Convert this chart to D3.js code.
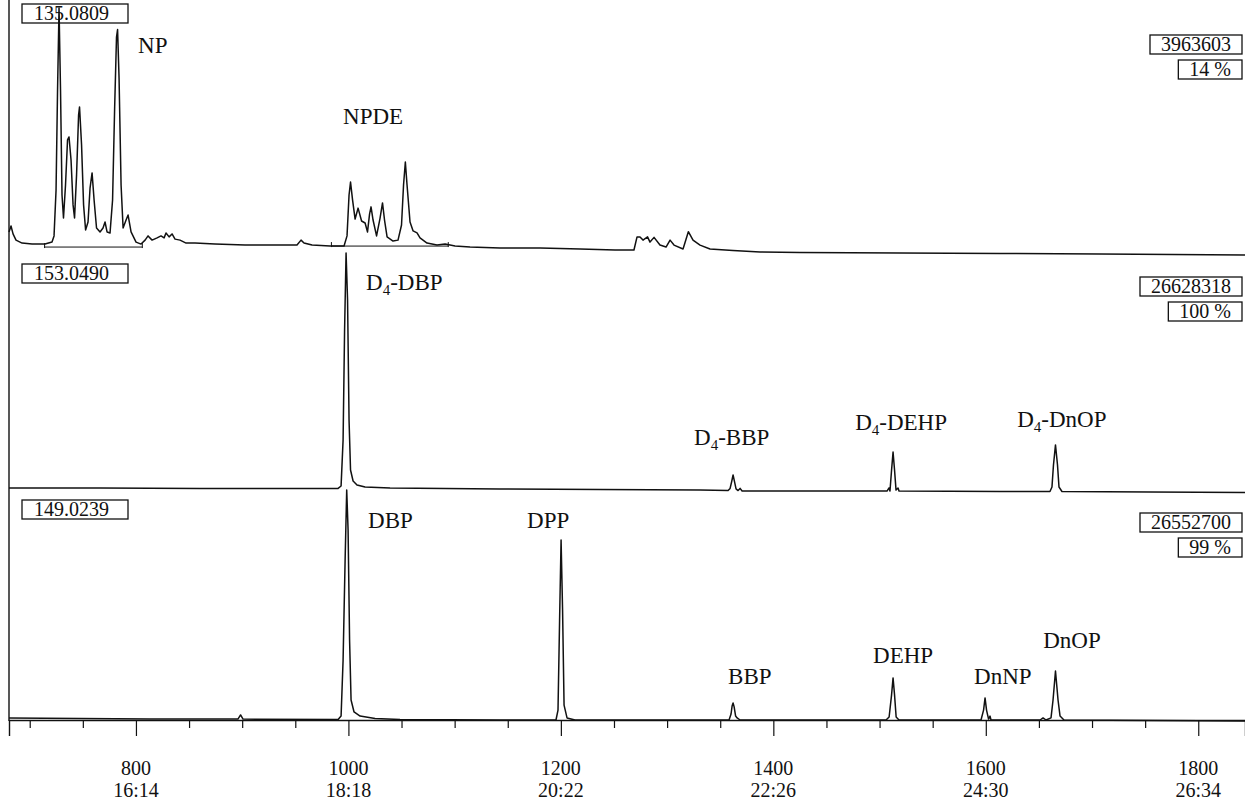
<!DOCTYPE html>
<html>
<head>
<meta charset="utf-8">
<script src="https://cdn.jsdelivr.net/npm/d3@7"></script>
<style>
  body { margin: 0; background: #fff; }
  svg { display: block; }
  text { font-family: "Liberation Serif", "Times New Roman", serif; fill: #111; }
</style>
</head>
<body>
<svg id="chart" width="1245" height="802"></svg>
<script>
// ---- Axis: scan number with retention time underneath ----
const majorScans = [800, 1000, 1200, 1400, 1600, 1800];
const majorTimes = ["16:14", "18:18", "20:22", "22:26", "24:30", "26:34"];
const minorScans = [700, 750, 850, 900, 950, 1050, 1100, 1150, 1250, 1300, 1350,
                    1450, 1500, 1550, 1650, 1700, 1750];

// ---- Panel headers: ion mass, full-scale count, relative scale ----
const ionMasses = ["135.0809", "153.0490", "149.0239"];
const fullScaleCounts = ["3963603", "26628318", "26552700"];
const scalePercents = ["14 %", "100 %", "99 %"];

// ---- Trace m/z 135.0809 (relative intensity, %) ----
const scans135 = [680.5, 682.4, 684.3, 687.1, 692.8, 702.2, 714.4, 721.0, 722.9, 724.8,
  726.2, 727.6, 729.0, 730.4, 731.8, 733.7, 735.6, 737.0, 738.9, 740.8,
  742.2, 744.1, 746.0, 746.9, 748.8, 750.7, 752.6, 754.9, 756.8, 758.7,
  760.6, 762.9, 766.2, 769.0, 770.9, 772.8, 775.6, 778.0, 779.9, 781.7,
  782.7, 784.1, 786.0, 787.9, 790.7, 792.6, 795.4, 800.1, 804.8, 808.6,
  811.4, 815.2, 819.9, 823.6, 826.5, 828.3, 831.2, 834.0, 836.8, 841.5,
  847.2, 855.6, 874.4, 902.7, 926.2, 951.6, 955.4, 958.2, 965.8, 982.7,
  995.9, 998.7, 1000.6, 1002.0, 1003.9, 1006.3, 1009.1, 1012.4, 1015.7, 1018.0,
  1019.9, 1021.3, 1023.2, 1026.5, 1029.8, 1032.1, 1034.0, 1036.4, 1042.0, 1046.7,
  1050.0, 1051.9, 1053.6, 1055.2, 1058.0, 1060.9, 1064.6, 1067.4, 1074.0, 1083.4,
  1091.0, 1100.4, 1114.5, 1142.7, 1180.4, 1218.1, 1251.0, 1268.8, 1271.7, 1274.5,
  1277.3, 1281.6, 1283.9, 1287.7, 1293.3, 1299.0, 1302.8, 1306.5, 1315.0, 1320.0,
  1324.4, 1331.0, 1340.4, 1362.0, 1387.5, 1425.1, 1519.2, 1613.4, 1707.5, 1844];
const intensity135 = [8.9, 11.3, 8.1, 5.6, 4.4, 4.0, 4.0, 4.8, 7.3, 25.8,
  66.1, 99.2, 66.1, 23.8, 14.5, 27.8, 46.0, 47.2, 37.9, 19.8,
  14.5, 31.9, 56.0, 59.3, 44.0, 19.8, 9.7, 12.9, 26.6, 32.7,
  21.8, 10.5, 8.9, 10.5, 12.9, 8.9, 8.5, 21.8, 58.1, 87.5,
  90.5, 71.0, 27.8, 10.5, 13.7, 15.7, 8.9, 4.8, 4.0, 5.6,
  7.3, 5.6, 6.5, 7.3, 6.5, 8.5, 6.9, 8.1, 6.0, 5.6,
  4.4, 4.4, 4.0, 3.6, 3.6, 3.6, 5.6, 4.4, 3.6, 3.2,
  3.2, 7.3, 23.8, 29.0, 21.8, 14.1, 18.5, 13.3, 12.5, 8.9,
  16.1, 19.0, 13.7, 7.3, 14.5, 20.6, 13.7, 6.9, 5.2, 5.6,
  11.7, 27.8, 37.1, 27.8, 12.9, 9.3, 8.5, 6.5, 4.4, 3.6,
  4.0, 3.2, 2.8, 2.4, 2.4, 2.0, 1.6, 1.6, 6.9, 6.9,
  5.6, 6.9, 4.8, 6.7, 3.6, 2.8, 5.6, 3.6, 2.0, 9.0,
  5.6, 3.6, 2.0, 1.4, 0.8, 0.6, 0.4, 0.2, 0.0, -0.4];
// integration baselines under the NP and NPDE clusters: [start scan, end scan, level]
const baselines135 = [[714, 806, 2.8], [984, 1094, 3.2]];

// ---- Trace m/z 153.0490 ----
const scans153 = [680.5, 766.2, 860.3, 954.5, 990.3, 993.1, 995.0, 996.4, 997.8, 999.2,
  1000.6, 1002.0, 1004.4, 1008.1, 1015.7, 1039.2, 1142.7, 1236.9, 1331.0, 1357.4,
  1359.3, 1360.7, 1362.1, 1363.5, 1364.9, 1366.8, 1368.7, 1370.6, 1425.1, 1507.0,
  1508.9, 1509.8, 1511.3, 1512.7, 1514.1, 1515.5, 1517.4, 1518.3, 1613.4, 1660.4,
  1662.3, 1663.7, 1665.6, 1667.5, 1668.9, 1671.7, 1754.6, 1844];
const intensity153 = [1.7, 1.7, 1.5, 1.5, 1.5, 2.5, 21.8, 67.8, 100, 80.3,
  30.1, 9.2, 4.6, 2.9, 2.1, 1.7, 1.3, 1.0, 0.8, 0.6,
  1.5, 4.2, 7.1, 4.2, 1.3, 0.6, 1.5, 0.4, 0.4, 0.4,
  1.7, 0.4, 9.2, 16.7, 9.2, 0.8, 1.7, 0.4, 0.2, 0.2,
  2.1, 11.3, 19.7, 11.3, 2.1, 0.2, 0.0, -0.2];

// ---- Trace m/z 149.0239 ----
const scans149 = [680.5, 813.2, 896.0, 898.5, 900.8, 990.3, 993.1, 995.0, 996.9, 998.4,
  999.7, 1001.1, 1002.5, 1005.3, 1011.0, 1025.1, 1048.6, 1142.7, 1195.4, 1197.3,
  1198.8, 1200.2, 1201.6, 1203.0, 1205.8, 1213.3, 1358.3, 1360.2, 1361.2, 1362.1,
  1363.1, 1364.5, 1365.9, 1368.7, 1506.1, 1509.0, 1511.3, 1512.7, 1514.1, 1515.6,
  1518.3, 1595.5, 1597.9, 1599.3, 1600.7, 1602.6, 1604.0, 1604.9, 1651.1, 1653.9,
  1656.7, 1661.4, 1663.3, 1665.6, 1668.0, 1669.9, 1673.6, 1844];
const intensity149 = [0.9, 0.4, 0.4, 2.2, 0.4, 0.2, 1.7, 26.1, 69.6, 100,
  82.6, 34.8, 8.7, 3.5, 1.7, 0.7, 0.2, 0.0, 0.0, 4.3,
  43.5, 78.3, 47.8, 6.5, 0.9, 0.0, 0.0, 2.6, 6.1, 7.4,
  5.7, 1.7, 0.9, 0.0, 0.0, 1.3, 10.9, 18.3, 10.9, 1.3,
  0.0, 0.0, 4.3, 9.6, 4.3, 0.4, 1.7, 0.0, 0.0, 0.9,
  0.0, 0.9, 8.7, 21.3, 8.7, 1.7, 0.0, -0.4];

// ---- Compound labels: name, anchor scan, anchor level (%) ----
const labels135 = [["NP", 802, 81.0], ["NPDE", 995, 52.4]];
const labels153 = [["D4-DBP", 1016.6, 84.5], ["D4-BBP", 1325.4, 19.7],
                   ["D4-DEHP", 1477.0, 25.9], ["D4-DnOP", 1629.5, 27.2]];
const labels149 = [["DBP", 1018.5, 83.5], ["DPP", 1168.2, 83.5], ["BBP", 1357.4, 15.7],
                   ["DEHP", 1493.9, 24.8], ["DnNP", 1589.0, 15.7], ["DnOP", 1654.0, 31.3]];

// ---------------------------------------------------------------
const W = 1245, H = 802;
const svg = d3.select("#chart");
const x = d3.scaleLinear().domain([680.5, 1844]).range([9, W]);

// panel frames: top of scale, zero line, header rows (left box, right boxes)
const frames = [
  { top: 6,   zero: 254, leftBox: 4,   rightBox: 35 },
  { top: 253, zero: 492, leftBox: 264, rightBox: 277 },
  { top: 490, zero: 720, leftBox: 500, rightBox: 513 }
];
const traces = [
  { scans: scans135, vals: intensity135, labels: labels135 },
  { scans: scans153, vals: intensity153, labels: labels153 },
  { scans: scans149, vals: intensity149, labels: labels149 }
];

const ink = "#111";

traces.forEach((tr, i) => {
  const f = frames[i];
  const y = d3.scaleLinear().domain([0, 100]).range([f.zero, f.top]);
  const pts = tr.scans.map((s, k) => [s, tr.vals[k]]);
  const line = d3.line().x(d => x(d[0])).y(d => y(d[1]));

  svg.append("path")
    .attr("d", line(pts))
    .attr("fill", "none")
    .attr("stroke", ink)
    .attr("stroke-width", 1.5)
    .attr("stroke-linejoin", "round");

  if (i === 0) {
    baselines135.forEach(b => {
      const g = svg.append("g").attr("stroke", ink).attr("stroke-width", 1);
      g.append("line").attr("x1", x(b[0])).attr("x2", x(b[1]))
        .attr("y1", y(b[2])).attr("y2", y(b[2]));
      [b[0], b[1]].forEach(s => g.append("line")
        .attr("x1", x(s)).attr("x2", x(s))
        .attr("y1", y(b[2]) - 4).attr("y2", y(b[2]) + 1));
    });
  }

  // compound labels
  tr.labels.forEach(([name, s, lv]) => {
    const t = svg.append("text")
      .attr("x", x(s)).attr("y", y(lv))
      .attr("font-size", 23);
    const m = name.match(/^D4-(.*)$/);
    if (m) {
      t.append("tspan").text("D");
      t.append("tspan").attr("font-size", 15).attr("dy", 5).text("4");
      t.append("tspan").attr("dy", -5).text("-" + m[1]);
    } else {
      t.text(name);
    }
  });

  // left header box: ion mass
  const lb = svg.append("g");
  lb.append("rect").attr("x", 22).attr("y", f.leftBox)
    .attr("width", 106).attr("height", 19)
    .attr("fill", "none")
    .attr("stroke", ink).attr("stroke-width", 1.3);
  lb.append("text").attr("x", 34).attr("y", f.leftBox + 16)
    .attr("font-size", 20).text(ionMasses[i]);

  // right header boxes: full-scale count and relative scale
  [[fullScaleCounts[i], f.rightBox], [scalePercents[i], f.rightBox + 25]].forEach(([txt, top]) => {
    const g = svg.append("g");
    const t = g.append("text").attr("font-size", 20).attr("text-anchor", "middle").text(txt);
    const w = t.node().getComputedTextLength() + 22;
    const right = W - 3;
    g.insert("rect", "text").attr("x", right - w).attr("y", top)
      .attr("width", w).attr("height", 19)
      .attr("fill", "none").attr("stroke", ink).attr("stroke-width", 1.3);
    t.attr("x", right - w / 2).attr("y", top + 16);
  });
});

// left frame line
svg.append("line").attr("x1", 9).attr("x2", 9).attr("y1", 0).attr("y2", 721)
  .attr("stroke", ink).attr("stroke-width", 1.4);

// bottom axis
const axisY = 720;
const axisG = svg.append("g").attr("transform", `translate(0,${axisY})`);
axisG.call(d3.axisBottom(x).tickValues(minorScans).tickSize(8).tickFormat(""));
axisG.call(g => g.select(".domain").remove());
const axisMajor = svg.append("g").attr("transform", `translate(0,${axisY})`)
  .call(d3.axisBottom(x).tickValues(majorScans).tickSize(16).tickFormat(""));
axisMajor.select(".domain").attr("stroke", ink).attr("stroke-width", 1.4);
svg.selectAll(".tick line").attr("stroke", ink).attr("stroke-width", 1.2);

majorScans.forEach((s, k) => {
  svg.append("text").attr("x", x(s)).attr("y", 775)
    .attr("text-anchor", "middle").attr("font-size", 20).text(s);
  svg.append("text").attr("x", x(s)).attr("y", 797)
    .attr("text-anchor", "middle").attr("font-size", 20).text(majorTimes[k]);
});
</script>
</body>
</html>
